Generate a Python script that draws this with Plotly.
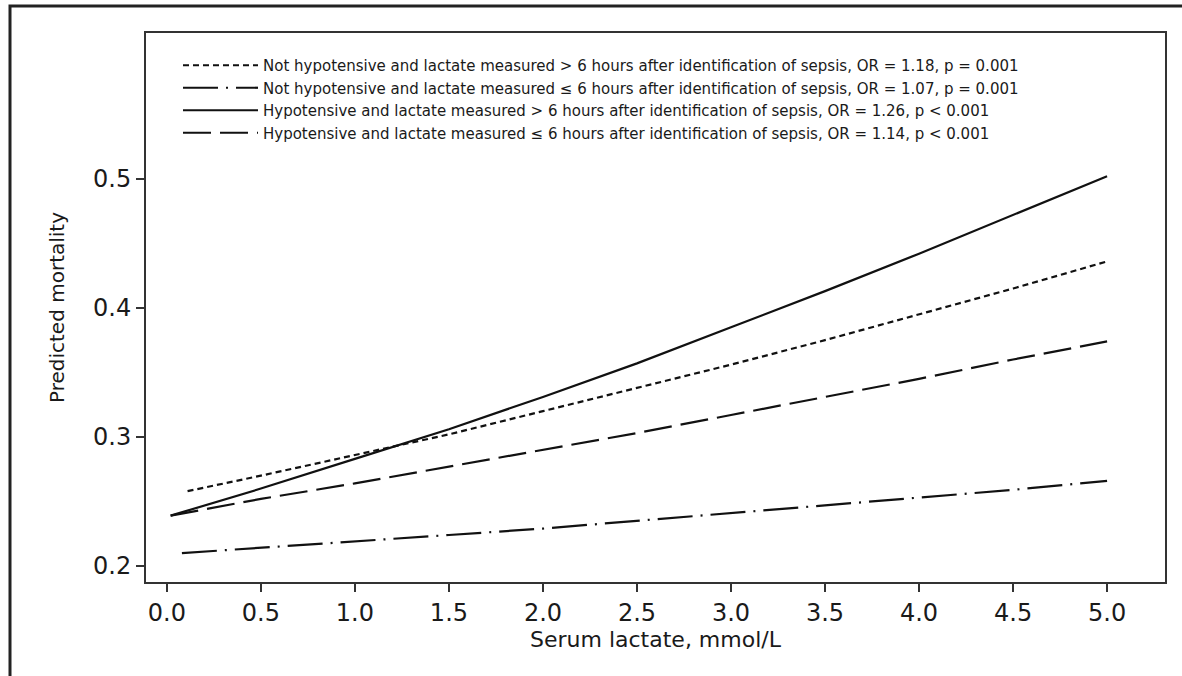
import plotly.graph_objects as go

# ---- data ----
x_solid = [0.02, 0.5, 1.0, 1.5, 2.0, 2.5, 3.0, 3.5, 4.0, 4.5, 5.0]
y_hypo_late = [0.239, 0.260, 0.283, 0.306, 0.331, 0.357, 0.385, 0.413, 0.442, 0.472, 0.502]

x_longdash = [0.02, 0.5, 1.0, 1.5, 2.0, 2.5, 3.0, 3.5, 4.0, 4.5, 5.0]
y_hypo_early = [0.239, 0.252, 0.264, 0.277, 0.290, 0.303, 0.317, 0.331, 0.345, 0.360, 0.374]

x_dotted = [0.11, 0.5, 1.0, 1.5, 2.0, 2.5, 3.0, 3.5, 4.0, 4.5, 5.0]
y_nothypo_late = [0.258, 0.270, 0.286, 0.302, 0.320, 0.338, 0.356, 0.375, 0.395, 0.415, 0.436]

x_dashdot = [0.08, 0.5, 1.0, 1.5, 2.0, 2.5, 3.0, 3.5, 4.0, 4.5, 5.0]
y_nothypo_early = [0.210, 0.214, 0.219, 0.224, 0.229, 0.235, 0.241, 0.247, 0.253, 0.259, 0.266]

series_names = [
    "Not hypotensive and lactate measured > 6 hours after identification of sepsis, OR = 1.18, p = 0.001",
    "Not hypotensive and lactate measured \u2264 6 hours after identification of sepsis, OR = 1.07, p = 0.001",
    "Hypotensive and lactate measured > 6 hours after identification of sepsis, OR = 1.26, p < 0.001",
    "Hypotensive and lactate measured \u2264 6 hours after identification of sepsis, OR = 1.14, p < 0.001",
]

x_ticks = [0.0, 0.5, 1.0, 1.5, 2.0, 2.5, 3.0, 3.5, 4.0, 4.5, 5.0]
y_ticks = [0.2, 0.3, 0.4, 0.5]

FONT = "DejaVu Sans"
INK = "#1a1a1a"

fig = go.Figure()
specs = [
    (x_dotted, y_nothypo_late, "6px,4px"),
    (x_dashdot, y_nothypo_early, "35px,8px,2px,8px"),
    (x_solid, y_hypo_late, "solid"),
    (x_longdash, y_hypo_early, "28px,9px"),
]
for i, ((xs, ys, dash), name) in enumerate(zip(specs, series_names)):
    fig.add_trace(go.Scatter(
        x=xs, y=ys, mode="lines", name=name, legendgroup=f"g{i}",
        line=dict(color="#111111", width=2.2, dash=dash),
    ))

W, H = 1182, 676
L, R, T, B = 146, 17, 33, 94
pw, ph = W - L - R, H - T - B

axis_common = dict(
    showline=True, mirror=True, linecolor="#333333", linewidth=2,
    ticks="outside", ticklen=8, tickwidth=2, tickcolor="#333333",
    showgrid=False, zeroline=False,
    tickfont=dict(family=FONT, size=24, color=INK),
    tickformat=".1f",
)

fig.update_layout(
    width=W, height=H,
    margin=dict(l=L, r=R, t=T, b=B),
    paper_bgcolor="white", plot_bgcolor="white",
    font=dict(family=FONT, color=INK),
    xaxis=dict(range=[-0.111, 5.308], tickvals=x_ticks,
               title=dict(text="Serum lactate, mmol/L", font=dict(family=FONT, size=22, color=INK), standoff=0),
               **axis_common),
    yaxis=dict(range=[0.1876, 0.613], tickvals=y_ticks,
               title=dict(text="Predicted mortality", font=dict(family=FONT, size=20, color=INK), standoff=23),
               **axis_common),
    legend=dict(
        x=(178 - L) / pw, xanchor="left",
        y=1 - (49 - T) / ph, yanchor="top",
        bgcolor="rgba(255,255,255,0)", borderwidth=0,
        font=dict(family=FONT, size=15, color=INK),
        itemwidth=75, traceorder="normal", tracegroupgap=1,
    ),
    showlegend=True,
)

# outer figure frame
fig.add_shape(type="rect", xref="paper", yref="paper",
              x0=(10 - L) / pw, x1=1.2, y0=-0.4, y1=1 + (T - 6) / ph,
              line=dict(color="#222222", width=3), layer="below")

fig.write_html("out.html", config={"displayModeBar": False},
               post_script="document.body.style.margin='0';")
